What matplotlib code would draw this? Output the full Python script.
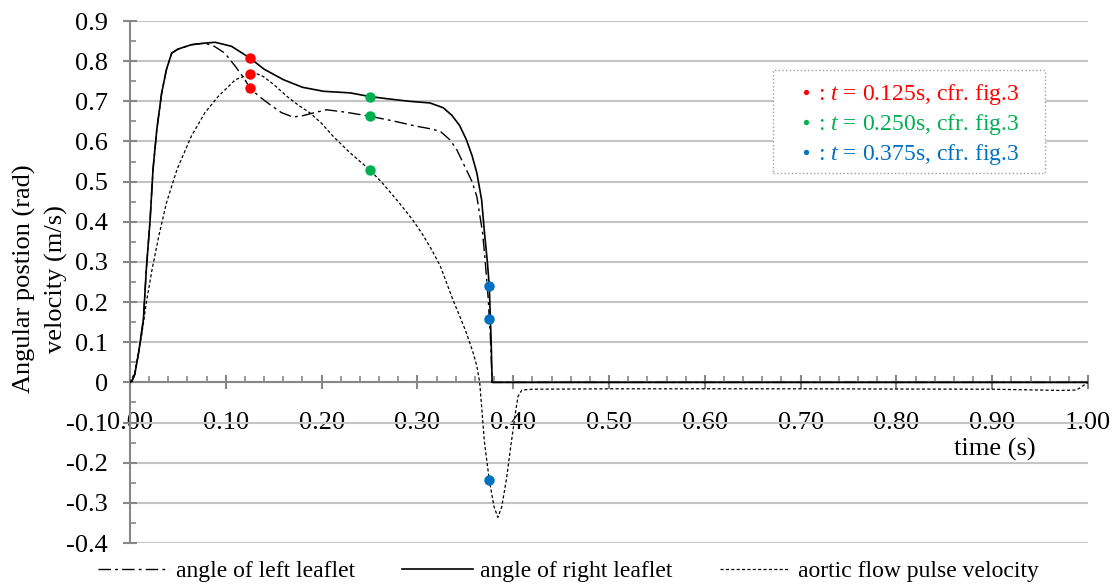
import matplotlib
matplotlib.use('Agg')
import matplotlib.pyplot as plt
from matplotlib.lines import Line2D
from matplotlib.patches import Rectangle
from matplotlib.ticker import MultipleLocator, FixedLocator
import numpy as np

plt.rcParams['font.family'] = ['Liberation Serif', 'DejaVu Serif']
plt.rcParams['mathtext.fontset'] = 'custom'
plt.rcParams['mathtext.rm'] = 'Liberation Serif'
plt.rcParams['mathtext.it'] = 'Liberation Serif:italic'

#angle of right leaflet (solid)
t_right = [0, 0.002, 0.005, 0.009, 0.014, 0.017, 0.021, 0.024, 0.028, 0.033, 0.038, 0.0435,
           0.050, 0.064, 0.078, 0.089, 0.106, 0.125, 0.140, 0.160, 0.180, 0.202, 0.230,
           0.250, 0.270, 0.292, 0.313, 0.327, 0.336, 0.344, 0.351, 0.357, 0.362, 0.367,
           0.370, 0.373, 0.375, 0.377, 0.378, 0.40, 0.60, 0.80, 1.00]
right = [0, 0.003, 0.02, 0.074, 0.157, 0.281, 0.405, 0.53, 0.63, 0.72, 0.779, 0.82,
         0.83, 0.841, 0.845, 0.847, 0.837, 0.808, 0.780, 0.754, 0.735, 0.725, 0.721,
         0.712, 0.706, 0.700, 0.696, 0.684, 0.665, 0.640, 0.605, 0.565, 0.522, 0.455,
         0.373, 0.300, 0.240, 0.10, 0.0, 0.0, 0.0, 0.0, 0.0]

#angle of left leaflet (dash-dot)
t_left = [0, 0.002, 0.005, 0.009, 0.014, 0.017, 0.021, 0.024, 0.028, 0.033, 0.038, 0.0435,
          0.050, 0.064, 0.078, 0.088, 0.099, 0.110, 0.120, 0.125, 0.135, 0.146, 0.158,
          0.170, 0.180, 0.188, 0.205, 0.225, 0.250, 0.275, 0.299, 0.315, 0.324, 0.334,
          0.341, 0.351, 0.357, 0.362, 0.368, 0.370, 0.374, 0.375, 0.376, 0.378, 0.40,
          0.60, 0.80, 1.00]
left = [0, 0.003, 0.02, 0.074, 0.157, 0.281, 0.405, 0.53, 0.63, 0.72, 0.779, 0.82,
        0.83, 0.841, 0.845, 0.837, 0.820, 0.787, 0.754, 0.733, 0.712, 0.692, 0.672,
        0.661, 0.664, 0.669, 0.679, 0.673, 0.663, 0.651, 0.638, 0.631, 0.625, 0.604,
        0.580, 0.530, 0.500, 0.463, 0.373, 0.323, 0.206, 0.158, 0.124, 0.0, 0.0,
        0.0, 0.0, 0.0]

#aortic flow pulse velocity (dashed)
t_flow = [0, 0.005, 0.012, 0.017, 0.023, 0.030, 0.038, 0.049, 0.064, 0.078, 0.092, 0.110,
          0.125, 0.132, 0.139, 0.150, 0.164, 0.176, 0.188, 0.200, 0.212, 0.230, 0.250,
          0.264, 0.280, 0.295, 0.305, 0.315, 0.324, 0.337, 0.345, 0.351, 0.358, 0.362,
          0.365, 0.370, 0.375, 0.380, 0.384, 0.388, 0.393, 0.397, 0.402, 0.405, 0.409,
          0.42, 0.50, 0.70, 0.90, 0.95, 0.97, 0.988, 1.00]
flow = [0, 0.024, 0.115, 0.198, 0.281, 0.364, 0.447, 0.530, 0.613, 0.671, 0.712, 0.754,
        0.767, 0.769, 0.762, 0.742, 0.712, 0.690, 0.671, 0.645, 0.613, 0.571, 0.530,
        0.495, 0.450, 0.405, 0.370, 0.330, 0.289, 0.206, 0.160, 0.124, 0.075, 0.041,
        0.0, -0.150, -0.243, -0.310, -0.336, -0.310, -0.240, -0.167, -0.080, -0.035, -0.019,
        -0.017, -0.016, -0.016, -0.017, -0.019, -0.020, -0.019, 0.0]

#marked instants (cfr. fig.3)
mark_t = [0.125, 0.250, 0.375]
mark_vals = [[0.808, 0.767, 0.733], [0.712, 0.663, 0.530], [0.240, 0.158, -0.243]]
mark_colors = ['#FF0000', '#00B050', '#0070C0']
mark_labels = [': $t$ = 0.125s, cfr. fig.3', ': $t$ = 0.250s, cfr. fig.3', ': $t$ = 0.375s, cfr. fig.3']

xticks = [0, 0.1, 0.2, 0.3, 0.4, 0.5, 0.6, 0.7, 0.8, 0.9, 1.0]
xticklabels = ['0.00', '0.10', '0.20', '0.30', '0.40', '0.50', '0.60', '0.70', '0.80', '0.90', '1.00']
yticks = [-0.4, -0.3, -0.2, -0.1, 0, 0.1, 0.2, 0.3, 0.4, 0.5, 0.6, 0.7, 0.8, 0.9]
yticklabels = ['-0.4', '-0.3', '-0.2', '-0.1', '0', '0.1', '0.2', '0.3', '0.4', '0.5', '0.6', '0.7', '0.8', '0.9']

fig = plt.figure(figsize=(11.14, 5.84), dpi=100)
ax = fig.add_axes([0.1167, 0.0702, 0.86, 0.8938])
ax.set_xlim(0, 1.0)
ax.set_ylim(-0.4, 0.9)

axcol = '#878787'
ax.grid(axis='y', color='#c4c4c4', lw=1.5, zorder=0)
ax.set_axisbelow(True)
for s in ['top', 'right']:
  ax.spines[s].set_visible(False)
ax.spines['bottom'].set_position(('data', 0))
ax.spines['left'].set_position(('data', 0))
for s in ['bottom', 'left']:
  ax.spines[s].set_color(axcol)
  ax.spines[s].set_linewidth(1.5)
  ax.spines[s].set_zorder(1)

ax.xaxis.set_major_locator(FixedLocator(xticks))
ax.set_xticklabels(xticklabels)
ax.xaxis.set_minor_locator(MultipleLocator(0.02))
ax.yaxis.set_major_locator(FixedLocator(yticks))
ax.set_yticklabels(yticklabels)
ax.yaxis.set_minor_locator(MultipleLocator(0.05))
ax.tick_params(axis='x', which='major', direction='inout', length=10, width=1.5, color=axcol,
               pad=16, labelsize=19)
ax.tick_params(axis='x', which='minor', direction='in', length=4, width=1.2, color=axcol)
ax.tick_params(axis='y', which='major', direction='inout', length=10, width=1.5, color=axcol,
               pad=11, labelsize=19)
ax.tick_params(axis='y', which='minor', direction='in', length=4, width=1.2, color=axcol)

l1, = ax.plot(t_left, left, color='black', lw=1.0, dashes=(9, 3, 2, 3), zorder=3)
l2, = ax.plot(t_right, right, color='black', lw=1.2, zorder=3)
l3, = ax.plot(t_flow, flow, color='black', lw=0.9, dashes=(2.5, 1.8), zorder=3)

for tt, vals, c in zip(mark_t, mark_vals, mark_colors):
  ax.plot([tt]*len(vals), vals, 'o', color=c, ms=7.5, mec='none', zorder=4)

ax.text(0.903, -0.167, 'time (s)', ha='center', va='center', fontsize=19)
fig.text(40/1114, 1-279/584, 'Angular postion (rad)\nvelocity (m/s)', rotation=90,
         ha='center', va='center', fontsize=19, linespacing=1.5, multialignment='center')

#dotted box around the marker legend
ax.add_patch(Rectangle((0.671, 0.709), 0.284, 0.197, transform=ax.transAxes, fill=True,
                       facecolor='white', edgecolor='#a0a0a0', lw=1.0, ls=':', zorder=5))
handles = [Line2D([], [], ls='none', marker='o', ms=3.8, color=c, mec='none') for c in mark_colors]
lg = ax.legend(handles, mark_labels, loc='center', bbox_to_anchor=(0.813, 0.8015),
               borderaxespad=0, fontsize=17, labelcolor=mark_colors, handlelength=0.6,
               handletextpad=0.2, labelspacing=0.2, borderpad=0, frameon=False)
lg.set_zorder(6)

fig.legend([l1, l2, l3], ['angle of left leaflet', 'angle of right leaflet', 'aortic flow pulse velocity'],
           loc='center', bbox_to_anchor=(0.51, 0.022), ncol=3, frameon=False, fontsize=17,
           handlelength=3.0, handletextpad=0.3, columnspacing=2.0)

fig.savefig('out.png', dpi=100)
